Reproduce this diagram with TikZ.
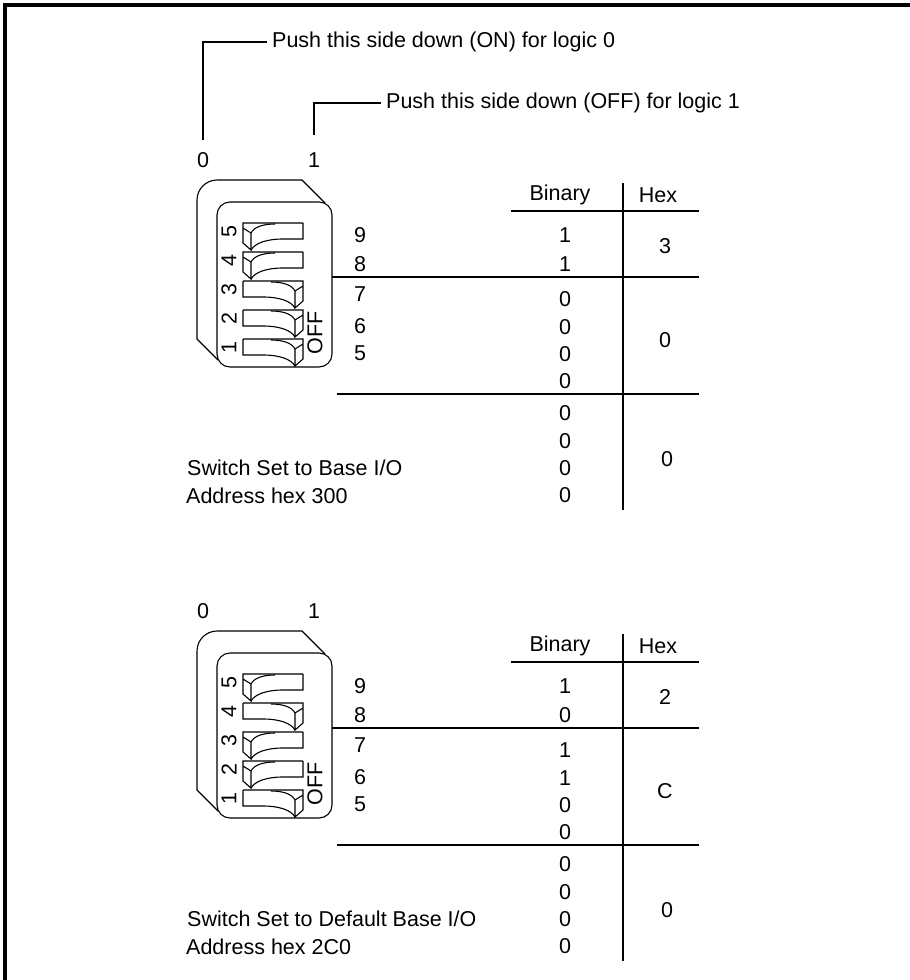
\documentclass[tikz,border=0pt]{standalone}
\usepackage{fontspec}
\setmainfont{Liberation Sans}
\tikzset{
 lbl/.style={font=\fontsize{21.5}{25}\selectfont, inner sep=0pt},
 rot/.style={lbl, rotate=90},
 frame/.style={line width=3.5pt},
 thin/.style={line width=1.1pt},
 swR/.pic={
  \draw[thin] (0,0) -- (60,0) -- (60,20) -- (52,27) -- (52,10) -- (60,5);
  \draw[thin] (0,0) -- (0,16) -- (20,16) .. controls (36,16) and (48,20) .. (52,27);
  \draw[thin] (28,1) .. controls (40,1) and (49,4) .. (52,10);
 },
 swL/.pic={
  \draw[thin] (60,0) -- (0,0) -- (0,20) -- (8,27) -- (8,10) -- (0,5);
  \draw[thin] (60,0) -- (60,16) -- (40,16) .. controls (24,16) and (12,20) .. (8,27);
  \draw[thin] (32,1) .. controls (20,1) and (11,4) .. (8,10);
 },
}
\newcommand\dipblock[8]{%
\begin{scope}[shift={(0,#2)}]
 \draw[thin] (218,360) -- (197,339) -- (197,200) .. controls (197,189) and (206,180) .. (217,180) -- (302,180) -- (325,203);
 \draw[thin, rounded corners=13pt] (217,202) rectangle (332,367);
 \foreach \n in {#3} {\pic at (243,{223+29*(5-\n)}) {swL};}
 \foreach \n in {#4} {\pic at (243,{223+29*(5-\n)}) {swR};}
 \foreach \n in {5,4,3,2,1} {\node[rot] (#1s\n) at (229,{232+29*(5-\n)}) {\n};}
 \node[rot] (#1off) at (315,333) {OFF};
 \foreach \n/\yy in {9/235,8/264,7/294,6/326,5/353} {\node[lbl] (#1a\n) at (360,\yy) {\n};}
 \node[lbl] (#1bin) at (560,195) {Binary};
 \node[lbl] (#1hex) at (658,195) {Hex};
 \draw[thin] (511,211) -- (699,211);
 \draw[thin] (332,277) -- (699,277);
 \draw[thin] (337,394) -- (699,394);
 \draw[thin] (623,183) -- (623,510);
 \foreach \v/\yy [count=\k] in {#5} {\node[lbl] (#1bit\k) at (565,\yy) {\v};}
 \node[lbl] (#1h1) at (665,246) {#6};
 \node[lbl] (#1h2) at (665,340) {#7};
 \node[lbl] (#1h3) at (667,459) {#8};
\end{scope}}
\begin{document}
\begin{tikzpicture}[x=1pt,y=-1pt]
\useasboundingbox (0,0) rectangle (910,980);
\draw[frame] (5,985) -- (5,5) -- (915,5);
% leaders
\node[lbl] (zero) at (203,160) {0};
\node[lbl] (one) at (314,160) {1};
\node[lbl,anchor=west] (push0) at (272,42) {Push this side down (ON) for logic 0};
\node[lbl,anchor=west] (push1) at (386,103) {Push this side down (OFF) for logic 1};
\draw[thin] ([yshift=12pt]zero.north) |- ([xshift=-5pt]push0.west);
\draw[thin] ([yshift=17pt]one.north) |- ([xshift=-5pt]push1.west);
% top block
\dipblock{t}{0}{5,4}{3,2,1}{1/235,1/264,0/299,0/327,0/354,0/381,0/413,0/441,0/468,0/495}{3}{0}{0}
\node[lbl,anchor=west] (tcap1) at (187,468) {Switch Set to Base I/O};
\node[lbl,anchor=west] (tcap2) at (186,496) {Address hex 300};
% bottom block
\node[lbl] (zerob) at (203,611) {0};
\node[lbl] (oneb) at (314,611) {1};
\dipblock{b}{451}{5,3,2}{4,1}{1/235,0/264,1/299,1/327,0/354,0/381,0/413,0/441,0/468,0/495}{2}{C}{0}
\node[lbl,anchor=west] (bcap1) at (187,919) {Switch Set to Default Base I/O};
\node[lbl,anchor=west] (bcap2) at (186,947) {Address hex 2C0};
\end{tikzpicture}
\end{document}
